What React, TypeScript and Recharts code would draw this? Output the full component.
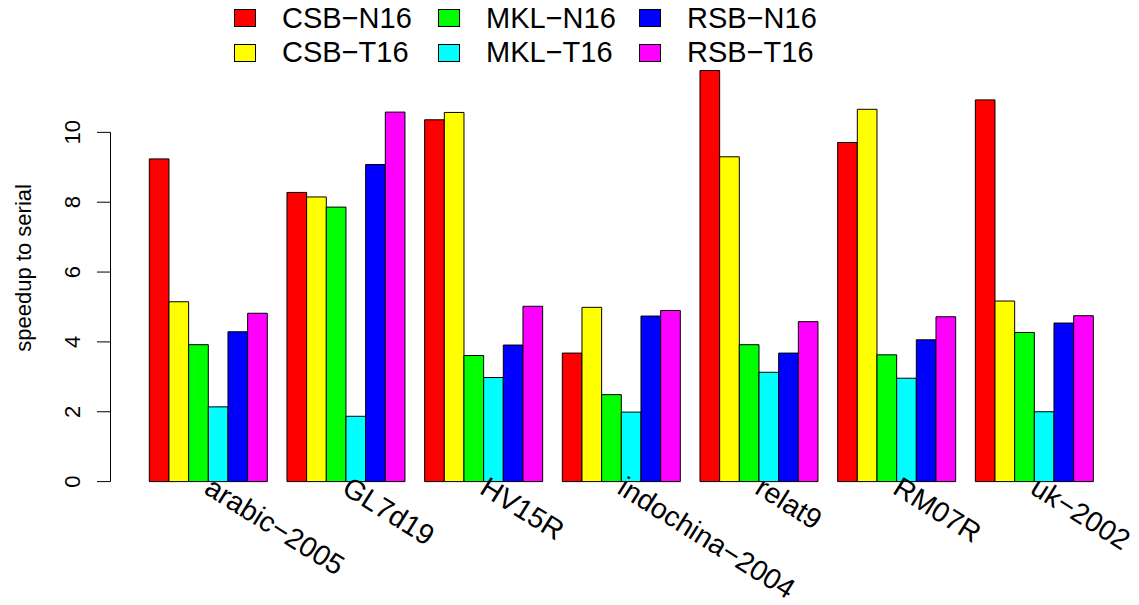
import React from "react";
import { BarChart, Bar, XAxis, YAxis, ReferenceLine, Legend } from "recharts";

const categories = ["arabic\u22122005", "GL7d19", "HV15R", "indochina\u22122004", "relat9", "RM07R", "uk\u22122002"];
const seriesNames = ["CSB\u2212N16", "CSB\u2212T16", "MKL\u2212N16", "MKL\u2212T16", "RSB\u2212N16", "RSB\u2212T16"];
const seriesColors = ["#FF0000", "#FFFF00", "#00FF00", "#00FFFF", "#0000FF", "#FF00FF"];
const csbN16 = [9.24, 8.28, 10.36, 3.68, 11.77, 9.71, 10.93];
const csbT16 = [5.15, 8.15, 10.57, 4.99, 9.30, 10.66, 5.17];
const mklN16 = [3.92, 7.86, 3.61, 2.49, 3.92, 3.63, 4.27];
const mklT16 = [2.14, 1.87, 2.98, 1.99, 3.13, 2.96, 2.00];
const rsbN16 = [4.29, 9.08, 3.91, 4.74, 3.68, 4.06, 4.54];
const rsbT16 = [4.82, 10.58, 5.02, 4.90, 4.58, 4.72, 4.75];
const yTicks = [0, 2, 4, 6, 8, 10];
const yLabel = "speedup to serial";

const seriesValues = [csbN16, csbT16, mklN16, mklT16, rsbN16, rsbT16];
const data = categories.map((name, i) => {
  const row: Record<string, number | string> = { name };
  seriesNames.forEach((s, j) => {
    row[s] = seriesValues[j][i];
  });
  return row;
});
const yMax = Math.max(...seriesValues.flat()) * 1.04;

const W = 1139;
const H = 605;
const M = { top: 54.1, right: 8.8, bottom: 122.4, left: 0.5 };
const Y_AXIS_W = 110;
const PAD_L = 28.8;
const PAD_R = 27.2;
const plotW = W - M.left - M.right - Y_AXIS_W - PAD_L - PAD_R;
const band = plotW / categories.length;
const barSize = band / (seriesNames.length + 1);
const FONT = "'Liberation Sans', Arial, Helvetica, sans-serif";
const TICK = 13.5;

const YTick = (props: any) => {
  const { x, y, payload } = props;
  return (
    <text x={x - 17} y={y} transform={`rotate(-90, ${x - 17}, ${y})`} textAnchor="middle" fontSize={22} fontFamily={FONT} fill="#000">
      {payload.value}
    </text>
  );
};

const XTick = (props: any) => {
  const { x, y, payload } = props;
  const ay = y + 2.5;
  return (
    <text x={x} y={ay} dy={10} transform={`rotate(32, ${x}, ${ay})`} textAnchor="start" fontSize={28.5} fontFamily={FONT} fill="#000">
      {payload.value}
    </text>
  );
};

const LegendContent = (props: any) => {
  const payload = (props.payload && props.payload.length ? props.payload : seriesNames.map((s, i) => ({ value: s, color: seriesColors[i] })));
  return (
    <div
      style={{
        position: "absolute",
        left: 234,
        top: 1,
        display: "grid",
        gridAutoFlow: "column",
        gridTemplateRows: "34.4px 34.4px",
        gridTemplateColumns: "204px 201px 200px",
        fontFamily: FONT,
        fontSize: 29,
        color: "#000",
        whiteSpace: "nowrap",
      }}
    >
      {payload.map((p: any, i: number) => (
        <div key={i} style={{ display: "flex", alignItems: "center", height: 34.4 }}>
          <span
            style={{
              display: "inline-block",
              width: 20,
              height: 16,
              background: p.color,
              border: "1px solid #000",
              marginRight: 26,
            }}
          />
          <span style={{ lineHeight: "34.4px" }}>{p.value}</span>
        </div>
      ))}
    </div>
  );
};

export default function App() {
  return (
    <div style={{ position: "absolute", left: 0, top: 0, width: W, height: H, background: "#fff" }}>
      <BarChart width={W} height={H} data={data} margin={M} barGap={0} barSize={barSize}>
        <XAxis
          dataKey="name"
          type="category"
          interval={0}
          tickLine={false}
          axisLine={false}
          height={1}
          tickSize={0}
          tickMargin={0}
          padding={{ left: PAD_L, right: PAD_R }}
          tick={<XTick />}
        />
        <XAxis xAxisId="num" type="number" domain={[0, 1]} hide />
        <YAxis
          type="number"
          domain={[0, yMax]}
          ticks={yTicks}
          interval={0}
          width={Y_AXIS_W}
          axisLine={false}
          tickLine={{ stroke: "#000", strokeWidth: 1 }}
          tickSize={TICK}
          tickMargin={0}
          tick={<YTick />}
          label={{
            value: yLabel,
            angle: -90,
            position: "insideLeft",
            style: { fontSize: 22, fontFamily: FONT, fill: "#000", textAnchor: "middle" },
            dx: 18,
          }}
        />
        <Legend
          verticalAlign="top"
          wrapperStyle={{ position: "absolute", left: 0, top: 0, width: 0, height: 0, overflow: "visible" }}
          content={<LegendContent />}
        />
        <ReferenceLine
          xAxisId="num"
          segment={[{ x: 0, y: yTicks[0] }, { x: 0, y: yTicks[yTicks.length - 1] }]}
          stroke="#000"
          strokeWidth={1}
          ifOverflow="visible"
        />
        {seriesNames.map((s, i) => (
          <Bar key={s} dataKey={s} name={s} fill={seriesColors[i]} stroke="#000" strokeWidth={1} isAnimationActive={false} legendType="rect" />
        ))}
      </BarChart>
    </div>
  );
}
